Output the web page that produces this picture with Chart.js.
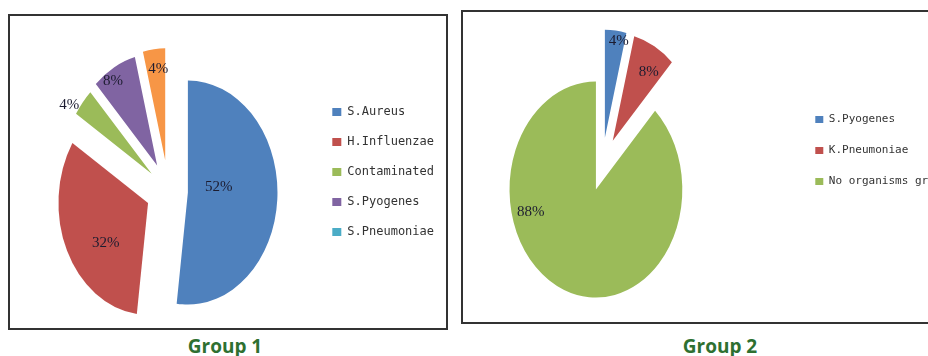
<!DOCTYPE html>
<html>
<head>
<meta charset="utf-8">
<script src="https://cdn.jsdelivr.net/npm/chart.js@4.4.0/dist/chart.umd.min.js"></script>
<style>
  body { margin: 0; width: 928px; height: 356px; overflow: hidden; background: #fff; position: relative; }
  .box { position: absolute; border: 2px solid #333; box-sizing: border-box; overflow: hidden; }
  .box canvas { position: absolute; left: 0; top: 0; }
  .caption { position: absolute; width: 200px; text-align: center; color: #2e7031; font: bold 19px "Open Sans", sans-serif; line-height: 19px; }
</style>
</head>
<body>
<div class="box" style="left:8px;top:14px;width:440px;height:316px"><canvas id="group1" width="436" height="312"></canvas></div>
<div class="box" style="left:461px;top:10px;width:520px;height:314px"><canvas id="group2" width="516" height="310"></canvas></div>
<div class="caption" style="left:125px;top:337px">Group 1</div>
<div class="caption" style="left:620px;top:337px">Group 2</div>
<script>
// data (percent of samples)
const group1Labels = ['S.Aureus', 'H.Influenzae', 'Contaminated', 'S.Pyogenes', 'S.Pneumoniae'];
const group1Values = [52, 32, 4, 8, 4];
const group2Labels = ['S.Pyogenes', 'K.Pneumoniae', 'No organisms grown'];
const group2Values = [4, 8, 88];

// office 2007 palette; the source legend shows teal for the last entry even though the slice is orange
const group1Colors = ['#4F81BD', '#C0504D', '#9BBB59', '#8064A2', '#F79646'];
const group1LegendColors = ['#4F81BD', '#C0504D', '#9BBB59', '#8064A2', '#4BACC6'];
const group2Colors = ['#4F81BD', '#C0504D', '#9BBB59'];

// how far (and which way) each slice is pulled out, and where its % label sits
const group1Explode = [24.5, 28, 27, 29, 31];
const group1ExplodeTurn = [0, 0, 0, 0, 0];
const group1LabelDist = [0.565, 0.836, 1.35, 1.17, 1.1];
const group1LabelTurn = [-8, -8, -4.5, -3, 1.4];
const group2Explode = [53, 53, 0];
const group2ExplodeTurn = [5, -5.4, 0];
const group2LabelDist = [1.405, 1.26, 0.78];
const group2LabelTurn = [3.7, 0.3, 53.6];

const rad = (deg) => deg * Math.PI / 180;

// the source image is squeezed sideways, so the pies are drawn as ellipses
const squeezedPie = {
  id: 'squeezedPie',
  beforeDatasetDraw(chart, args, opts) {
    const ctx = chart.ctx;
    const left = chart.chartArea.left;
    ctx.save();
    ctx.translate(left, 0);
    ctx.scale(opts.squeeze, 1);
    ctx.translate(-left, 0);
    args.meta.data.forEach((arc, i) => {
      const dir = (arc.startAngle + arc.endAngle) / 2 + rad(opts.explodeTurn[i]);
      const d = opts.explode[i];
      ctx.save();
      ctx.translate(Math.cos(dir) * d, Math.sin(dir) * d);
      arc.draw(ctx);
      ctx.restore();
    });
    ctx.restore();
    return false;
  },
  afterDatasetsDraw(chart, args, opts) {
    const ctx = chart.ctx;
    const left = chart.chartArea.left;
    const meta = chart.getDatasetMeta(0);
    const values = chart.data.datasets[0].data;
    ctx.save();
    ctx.font = '15px "Liberation Serif", serif';
    ctx.fillStyle = '#1c1c30';
    ctx.textAlign = 'center';
    ctx.textBaseline = 'middle';
    meta.data.forEach((arc, i) => {
      const a = (arc.startAngle + arc.endAngle) / 2 + rad(opts.labelTurn[i]);
      const r = arc.outerRadius * opts.labelDist[i];
      const x = arc.x + Math.cos(a) * r;
      const y = arc.y + Math.sin(a) * r;
      ctx.fillText(values[i] + '%', left + (x - left) * opts.squeeze, y + 1);
    });
    ctx.restore();
  }
};

function makePie(id, labels, values, colors, legendColors, cfg) {
  return new Chart(document.getElementById(id), {
    type: 'pie',
    data: {
      labels: labels,
      datasets: [{
        data: values,
        backgroundColor: colors,
        borderWidth: 0,
        radius: cfg.radius
      }]
    },
    options: {
      responsive: false,
      animation: false,
      layout: { padding: cfg.padding },
      plugins: {
        tooltip: { enabled: false },
        legend: {
          position: 'right',
          align: 'start',
          labels: {
            font: { family: 'DejaVu Sans Mono', size: cfg.legendFont },
            color: '#333',
            boxWidth: cfg.box,
            boxHeight: cfg.box - 1,
            padding: cfg.legendGap,
            generateLabels: (chart) => {
              const items = Chart.overrides.pie.plugins.legend.labels.generateLabels(chart);
              return items.map((item, i) => Object.assign(item, {
                fillStyle: legendColors[i], strokeStyle: legendColors[i], lineWidth: 0
              }));
            }
          }
        },
        squeezedPie: {
          squeeze: 0.8,
          explode: cfg.explode,
          explodeTurn: cfg.explodeTurn,
          labelDist: cfg.labelDist,
          labelTurn: cfg.labelTurn
        }
      }
    },
    plugins: [squeezedPie]
  });
}

makePie('group1', group1Labels, group1Values, group1Colors, group1LegendColors, {
  radius: 112,
  padding: { left: 61, right: 2, top: 72, bottom: 34 },
  legendFont: 12, box: 9, legendGap: 18,
  explode: group1Explode, explodeTurn: group1ExplodeTurn,
  labelDist: group1LabelDist, labelTurn: group1LabelTurn
});

makePie('group2', group2Labels, group2Values, group2Colors, group2Colors, {
  radius: 108,
  padding: { left: 0, right: 21, top: 82, bottom: 37 },
  legendFont: 11, box: 8, legendGap: 20,
  explode: group2Explode, explodeTurn: group2ExplodeTurn,
  labelDist: group2LabelDist, labelTurn: group2LabelTurn
});
</script>
</body>
</html>
